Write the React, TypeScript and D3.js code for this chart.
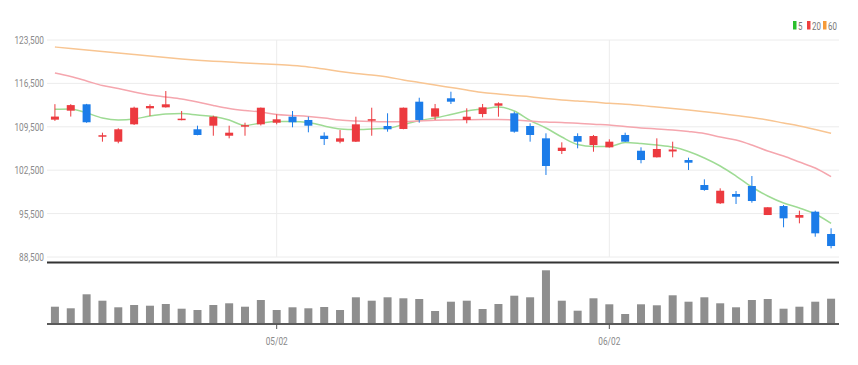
import React from "react";
import * as d3 from "d3";

const dates = [
  "04/12","04/13","04/14","04/15","04/18","04/19","04/20","04/21","04/22","04/25",
  "04/26","04/27","04/28","04/29","05/02","05/03","05/04","05/06","05/09","05/10",
  "05/11","05/12","05/13","05/16","05/17","05/18","05/19","05/20","05/23","05/24",
  "05/25","05/26","05/27","05/30","05/31","06/02","06/03","06/07","06/08","06/09",
  "06/10","06/13","06/14","06/15","06/16","06/17","06/20","06/21","06/22","06/23",
];

const openV = [110650,112100,113130,107930,107100,109900,112480,112640,110600,109100,109680,108060,109550,109900,110160,111130,110600,108060,107100,107100,110480,109630,109150,113550,111130,114100,110600,111560,112900,111680,109630,107640,105600,108010,106560,106190,108180,105640,104580,105520,104140,100110,97160,98660,99950,95270,96720,94840,95810,92210];
const highV = [113150,113150,113200,108550,109260,112740,113130,115270,112050,109680,111290,109680,110160,112610,111520,112050,111130,108610,108980,111130,112580,111680,112610,114190,113180,115160,112480,113180,113450,111930,110060,108450,107000,108450,108180,107480,108550,106190,107640,107100,104520,101030,99580,99140,101560,96520,96890,95970,95970,93130];
const lowV = [110450,111150,110150,107100,106840,109790,111240,112600,110550,108130,108060,107640,108060,109710,109900,109420,108610,106560,106840,107050,108060,108710,109100,110160,110600,113180,110060,111030,111130,108550,107100,101730,105110,106030,105480,106150,107050,103610,104550,104580,102530,99190,97050,97050,97260,95270,93290,93930,91770,89900];
const closeV = [111150,113000,110230,108140,109100,112580,112850,113130,110810,108180,111130,108550,109760,112580,110710,110230,109680,107530,107640,109900,110730,109100,112580,110600,112480,113550,111130,112640,113290,108710,108180,103180,106130,107100,108010,107100,107100,104140,105920,105840,103710,99310,99190,98220,97530,96520,94740,95270,92320,90270];

const volumeV = [173000,157000,297000,233000,167000,190000,183000,200000,153000,140000,190000,207000,173000,240000,140000,167000,157000,170000,140000,267000,233000,267000,257000,250000,130000,223000,233000,150000,200000,283000,267000,537000,233000,133000,257000,197000,100000,197000,187000,287000,223000,267000,207000,167000,240000,250000,153000,173000,223000,253000];

const ma5 = [112320,112370,111730,110920,110600,110760,111240,111560,111640,111400,111160,110600,109710,110110,110350,110350,110190,109630,109150,109060,109150,109260,109870,110520,110920,111480,112050,112370,112690,112050,110520,109310,107850,106640,106320,106320,106970,106810,106560,106240,105520,104470,103180,101560,99790,98340,97210,96400,95430,93930];
const ma20 = [118180,117610,116890,116160,115680,115110,114630,114310,113980,113500,112940,112450,112130,111890,111480,111320,111160,110920,110600,110440,110350,110320,110320,110440,110550,110600,110650,110680,110680,110600,110440,110270,110190,110060,109900,109790,109550,109310,109150,108980,108740,108420,107850,107370,106560,105600,104790,103820,102850,101450];
const ma60 = [122370,122130,121890,121650,121400,121160,120920,120680,120440,120240,120080,119950,119790,119660,119530,119370,119150,118820,118420,118100,117860,117530,117050,116650,116240,115840,115440,115030,114790,114550,114360,114060,113820,113660,113500,113290,113130,112940,112690,112450,112210,111940,111650,111320,111000,110600,110110,109630,109060,108450];

const yTicks = [88500, 95500, 102500, 109500, 116500, 123500];
const xTickLabels = ["05/02", "06/02"];
const legendLabels = ["5", "20", "60"];

const W = 858;
const H = 365;
const L = 47;
const R = 839;
const UP = "#ec3a3f";
const DOWN = "#1b7ce9";
const MA_COLORS = ["#9edb94", "#f5a6ae", "#f8c592"];
const LEGEND_COLORS = ["#2cbf2c", "#ee4040", "#f59a38"];
const FONT = "Roboto, 'Noto Sans', sans-serif";

export default function App() {
  const x = d3.scaleBand<string>().domain(dates).range([L, R]).padding(0);
  const step = x.bandwidth();
  const cx = (i: number) => (x(dates[i]) as number) + step / 2;
  const y = d3.scaleLinear().domain([88500, 123500]).range([257, 40]);
  const yv = d3.scaleLinear().domain([0, 560000]).range([324, 268]);
  const bw = 8;

  const line = d3
    .line<number>()
    .x((_, i) => cx(i))
    .y((d) => y(d))
    .curve(d3.curveMonotoneX);

  const mas = [ma5, ma20, ma60];

  return (
    <svg
      width={W}
      height={H}
      style={{ position: "absolute", left: 0, top: 0, background: "#fff" }}
      fontFamily={FONT}
    >
      {/* horizontal grid */}
      {yTicks.map((t) => (
        <line key={t} x1={L} x2={R} y1={y(t)} y2={y(t)} stroke="#ececec" strokeWidth={1} />
      ))}
      {/* vertical grid */}
      {xTickLabels.map((lb) => {
        const i = dates.indexOf(lb);
        return (
          <line key={lb} x1={cx(i)} x2={cx(i)} y1={y(123500)} y2={y(88500)} stroke="#ececec" strokeWidth={1} />
        );
      })}
      {/* y labels */}
      {yTicks.map((t) => (
        <text
          key={t}
          transform={`translate(44,${y(t) + 4}) scale(0.72,1)`}
          textAnchor="end"
          fontSize={11.5}
          fill="#8a8a8a"
        >
          {d3.format(",")(t)}
        </text>
      ))}
      {/* MA lines */}
      {mas.map((m, k) => (
        <path key={k} d={line(m) || ""} fill="none" stroke={MA_COLORS[k]} strokeWidth={1.5} />
      ))}
      {/* candles */}
      {dates.map((d, i) => {
        const o = openV[i], c = closeV[i], h = highV[i], l = lowV[i];
        const col = c >= o ? UP : DOWN;
        const top = y(Math.max(o, c));
        const bot = y(Math.min(o, c));
        const xc = cx(i);
        return (
          <g key={d}>
            <line x1={xc} x2={xc} y1={y(h)} y2={y(l)} stroke={col} strokeWidth={1} />
            <rect x={xc - bw / 2} y={top} width={bw} height={Math.max(1.5, bot - top)} fill={col} />
          </g>
        );
      })}
      {/* main bottom axis */}
      <line x1={L} x2={R} y1={262.5} y2={262.5} stroke="#333" strokeWidth={2} />
      {/* volume bars */}
      {dates.map((d, i) => (
        <rect
          key={d}
          x={cx(i) - bw / 2}
          y={yv(volumeV[i])}
          width={bw}
          height={yv(0) - yv(volumeV[i])}
          fill="#8e8e8e"
        />
      ))}
      <line x1={L} x2={R} y1={324} y2={324} stroke="#5a5a5a" strokeWidth={2} />
      {/* x ticks */}
      {xTickLabels.map((lb) => {
        const i = dates.indexOf(lb);
        return (
          <g key={lb}>
            <line x1={cx(i)} x2={cx(i)} y1={324} y2={329} stroke="#555" strokeWidth={1} />
            <text
              transform={`translate(${cx(i)},345) scale(0.72,1)`}
              textAnchor="middle"
              fontSize={11.5}
              fill="#8a8a8a"
            >
              {lb}
            </text>
          </g>
        );
      })}
      {/* legend */}
      {(() => {
        const xs = [793, 807, 823];
        return legendLabels.map((lb, k) => (
          <g key={lb}>
            <rect x={xs[k]} y={21} width={3.5} height={8.5} fill={LEGEND_COLORS[k]} />
            <text
              transform={`translate(${xs[k] + 5},29.5) scale(0.72,1)`}
              fontSize={11}
              fill="#777"
            >
              {lb}
            </text>
          </g>
        ));
      })()}
    </svg>
  );
}
